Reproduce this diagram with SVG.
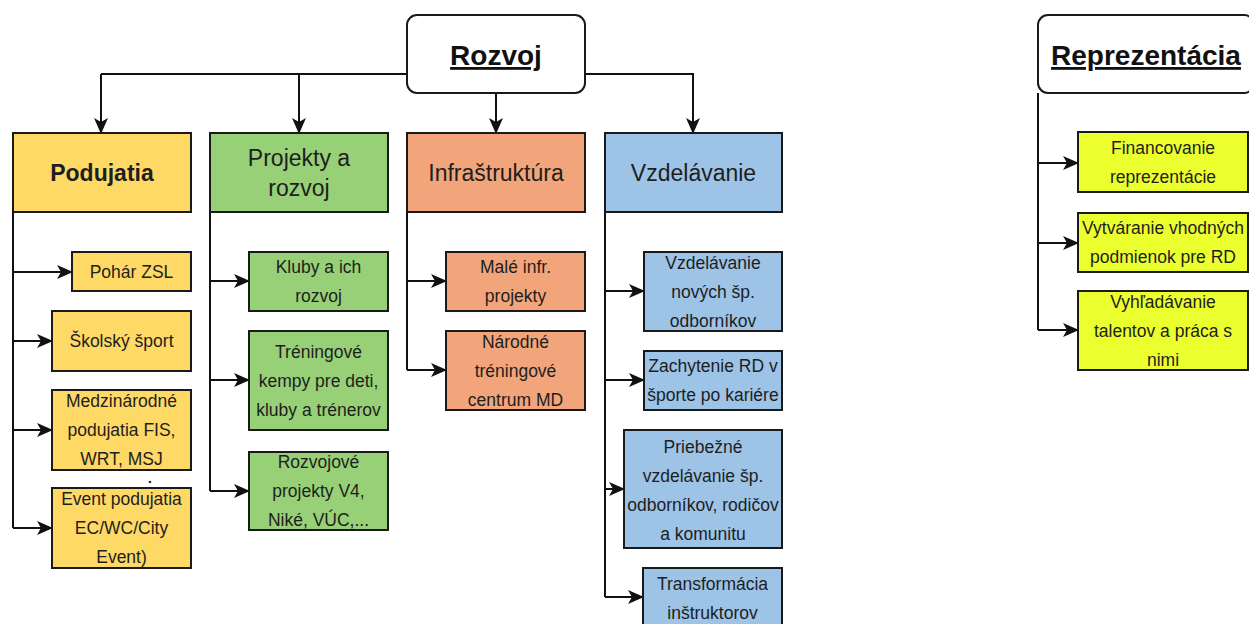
<svg xmlns="http://www.w3.org/2000/svg" width="1249" height="624" viewBox="0 0 1249 624">
<defs>
<marker id="arr" markerUnits="userSpaceOnUse" markerWidth="16" markerHeight="16" viewBox="0 0 16 16" refX="15" refY="8" orient="auto">
<path d="M0,1 L16,8 L0,15 L4,8 Z" fill="#111"/>
</marker>
<style>
.b{stroke:#1a1a1a;stroke-width:2}
.c{fill:none;stroke:#111;stroke-width:2;marker-end:url(#arr)}
.l{fill:none;stroke:#111;stroke-width:2}
.t{font-family:"Liberation Sans",Arial,sans-serif;font-size:17.5px;fill:#1e1e1e;text-anchor:middle}
.h{font-family:"Liberation Sans",Arial,sans-serif;font-size:23px;fill:#1e1e1e;text-anchor:middle}
.r{font-family:"Liberation Sans",Arial,sans-serif;font-size:28px;font-weight:bold;fill:#111;text-anchor:middle;text-decoration:underline}
.y{fill:#FFD966}.g{fill:#97D077}.o{fill:#F2A57A}.u{fill:#9DC3E6}.z{fill:#EBFF2E}
</style>
</defs>
<rect width="1249" height="624" fill="#fff"/>

<g id="connectors">
<path class="l" d="M407,74 H101"/>
<path class="c" d="M101,74 V133"/>
<path class="c" d="M299,74 V133"/>
<path class="c" d="M496,93 V133"/>
<path class="c" d="M585,74 H693 V133"/>
<path class="l" d="M13,212 V528"/>
<path class="c" d="M13,272 H72"/>
<path class="c" d="M13,341 H52"/>
<path class="c" d="M13,430 H52"/>
<path class="c" d="M13,528 H52"/>
<path class="l" d="M210,212 V491"/>
<path class="c" d="M210,281 H249"/>
<path class="c" d="M210,380 H249"/>
<path class="c" d="M210,491 H249"/>
<path class="l" d="M407,212 V370"/>
<path class="c" d="M407,281 H446"/>
<path class="c" d="M407,370 H446"/>
<path class="l" d="M605,212 V597"/>
<path class="c" d="M605,291 H644"/>
<path class="c" d="M605,380 H644"/>
<path class="c" d="M605,489 H624"/>
<path class="c" d="M605,597 H643"/>
<path class="l" d="M1038,93 V330"/>
<path class="c" d="M1038,163 H1078"/>
<path class="c" d="M1038,243 H1078"/>
<path class="c" d="M1038,330 H1078"/>
</g>

<g id="rozvoj">
<rect class="b" x="407" y="15" width="178" height="78" rx="10" fill="#fff"/>
<text class="r" x="496" y="65">Rozvoj</text>
</g>

<g id="podujatia">
<rect class="b y" x="13" y="133" width="178" height="79"/>
<text class="h" x="102" y="180.5" font-weight="bold" font-size="22px">Podujatia</text>
</g>
<g id="projekty">
<rect class="b g" x="210" y="133" width="178" height="79"/>
<text class="h" x="299" y="165.5">Projekty a<tspan x="299" dy="30">rozvoj</tspan></text>
</g>
<g id="infrastruktura">
<rect class="b o" x="407" y="133" width="178" height="79"/>
<text class="h" x="496" y="180.5">Infraštruktúra</text>
</g>
<g id="vzdelavanie">
<rect class="b u" x="605" y="133" width="177" height="79"/>
<text class="h" x="693.5" y="180.5">Vzdelávanie</text>
</g>

<g id="pohar">
<rect class="b y" x="72" y="252" width="119" height="39"/>
<text class="t" x="131.5" y="277.5">Pohár ZSL</text>
</g>
<g id="skolsky">
<rect class="b y" x="52" y="311" width="139" height="60"/>
<text class="t" x="121.5" y="347">Školský šport</text>
</g>
<g id="medzinarodne">
<rect class="b y" x="52" y="390" width="139" height="80"/>
<text class="t" x="121.5" y="407">Medzinárodné<tspan x="121.5" dy="29">podujatia FIS,</tspan><tspan x="121.5" dy="29">WRT, MSJ</tspan></text>
</g>
<circle cx="150" cy="482" r="1.3" fill="#333"/>
<g id="event">
<rect class="b y" x="52" y="488" width="139" height="80"/>
<text class="t" x="121.5" y="505">Event podujatia<tspan x="121.5" dy="29">EC/WC/City</tspan><tspan x="121.5" dy="29">Event)</tspan></text>
</g>

<g id="kluby">
<rect class="b g" x="249" y="252" width="139" height="59"/>
<text class="t" x="318.5" y="273">Kluby a ich<tspan x="318.5" dy="29">rozvoj</tspan></text>
</g>
<g id="treningove">
<rect class="b g" x="249" y="331" width="139" height="99"/>
<text class="t" x="318.5" y="357.5">Tréningové<tspan x="318.5" dy="29">kempy pre deti,</tspan><tspan x="318.5" dy="29">kluby a trénerov</tspan></text>
</g>
<g id="rozvojove">
<rect class="b g" x="249" y="452" width="139" height="78"/>
<text class="t" x="318.5" y="468">Rozvojové<tspan x="318.5" dy="29">projekty V4,</tspan><tspan x="318.5" dy="29">Niké, VÚC,...</tspan></text>
</g>

<g id="male">
<rect class="b o" x="446" y="252" width="139" height="59"/>
<text class="t" x="515.5" y="273">Malé infr.<tspan x="515.5" dy="29">projekty</tspan></text>
</g>
<g id="narodne">
<rect class="b o" x="446" y="331" width="139" height="79"/>
<text class="t" x="515.5" y="347.5">Národné<tspan x="515.5" dy="29">tréningové</tspan><tspan x="515.5" dy="29">centrum MD</tspan></text>
</g>

<g id="vzdel-novych">
<rect class="b u" x="644" y="252" width="138" height="79"/>
<text class="t" x="713" y="268.5">Vzdelávanie<tspan x="713" dy="29">nových šp.</tspan><tspan x="713" dy="29">odborníkov</tspan></text>
</g>
<g id="zachytenie">
<rect class="b u" x="644" y="351" width="138" height="59"/>
<text class="t" x="713" y="372">Zachytenie RD v<tspan x="713" dy="29">športe po kariére</tspan></text>
</g>
<g id="priebezne">
<rect class="b u" x="624" y="430" width="158" height="118"/>
<text class="t" x="703" y="453">Priebežné<tspan x="703" dy="29">vzdelávanie šp.</tspan><tspan x="703" dy="29">odborníkov, rodičov</tspan><tspan x="703" dy="29">a komunitu</tspan></text>
</g>
<g id="transformacia">
<rect class="b u" x="643" y="568" width="139" height="60"/>
<text class="t" x="712.5" y="590">Transformácia<tspan x="712.5" dy="29">inštruktorov</tspan></text>
</g>

<g id="reprezentacia">
<rect class="b" x="1038" y="15" width="216" height="78" rx="10" fill="#fff"/>
<text class="r" x="1146" y="65">Reprezentácia</text>
</g>
<g id="financovanie">
<rect class="b z" x="1078" y="132" width="170" height="60"/>
<text class="t" x="1163" y="154">Financovanie<tspan x="1163" dy="29">reprezentácie</tspan></text>
</g>
<g id="vytvaranie">
<rect class="b z" x="1078" y="213" width="170" height="59"/>
<text class="t" x="1163" y="234">Vytváranie vhodných<tspan x="1163" dy="29">podmienok pre RD</tspan></text>
</g>
<g id="vyhladavanie">
<rect class="b z" x="1078" y="291" width="170" height="79"/>
<text class="t" x="1163" y="307.5">Vyhľadávanie<tspan x="1163" dy="29">talentov a práca s</tspan><tspan x="1163" dy="29">nimi</tspan></text>
</g>
</svg>
